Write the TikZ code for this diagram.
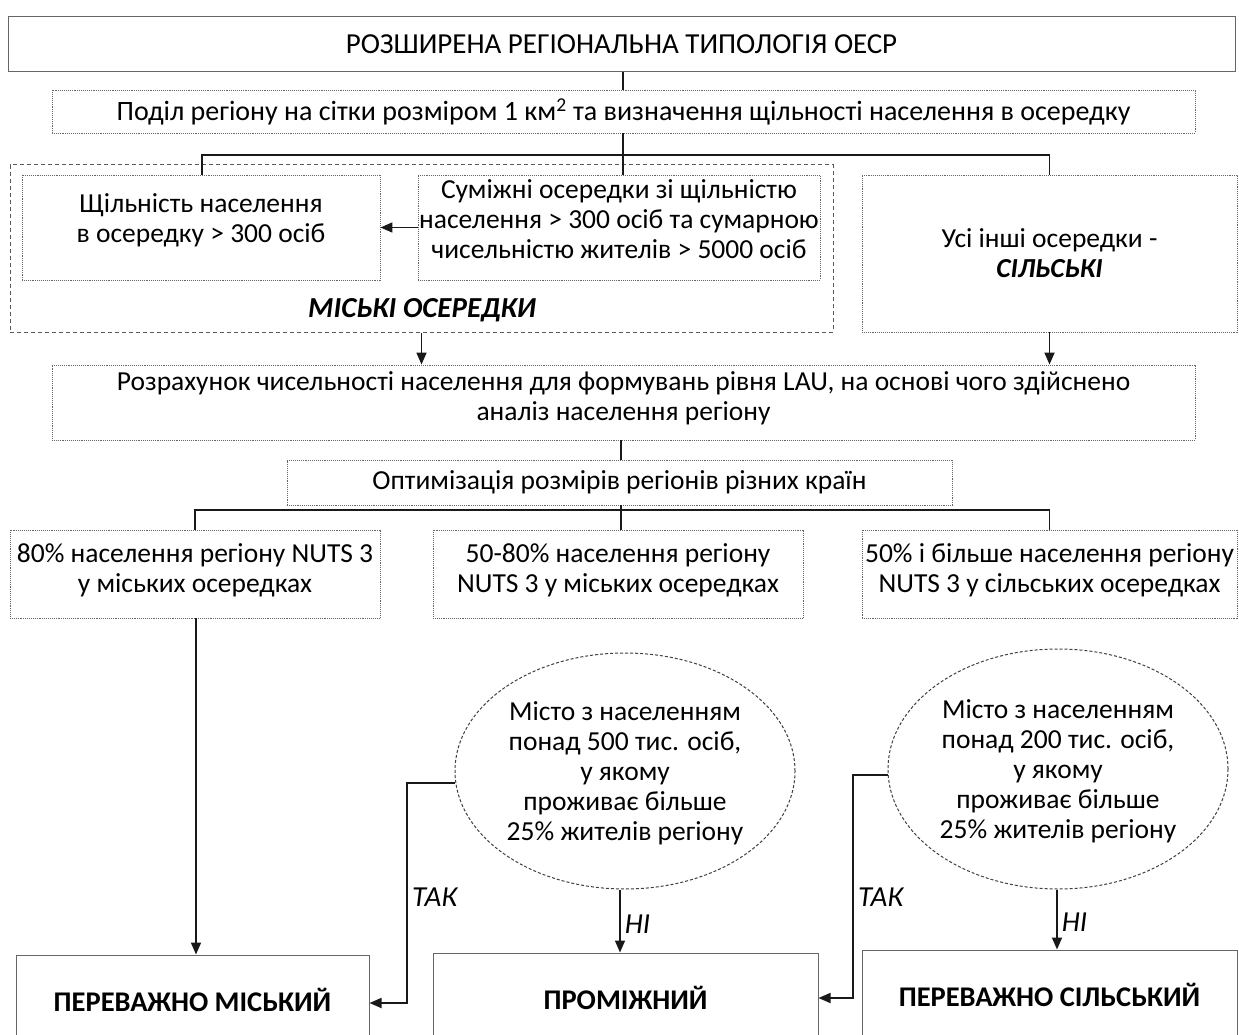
\documentclass[tikz,border=0pt]{standalone}
\usepackage{fontspec}
\setmainfont{Carlito}
\usetikzlibrary{shapes.geometric,arrows.meta,calc}
\begin{document}
\begin{tikzpicture}[x=1pt,y=-1pt,
  every node/.style={font=\fontsize{27.5}{30}\selectfont, text=black, inner sep=0pt, align=center},
  solidbox/.style={draw=black!60, line width=1pt, rectangle},
  dotbox/.style={draw=black!60, line width=0.9pt, densely dotted, rectangle},
  groupbox/.style={draw=black!65, line width=1pt, dash pattern=on 4pt off 3pt, rectangle},
  ellbox/.style={draw=black!75, line width=1pt, dash pattern=on 3pt off 2pt, ellipse},
  conn/.style={draw=black!90, line width=1.7pt},
  arr/.style={conn, -{Triangle[length=12pt,width=10pt]}},
  lbl/.style={font=\fontsize{29}{30}\selectfont\itshape},
  bigtxt/.style={font=\fontsize{28.5}{30}\selectfont\bfseries}
]
\useasboundingbox (0,0) rectangle (1239,1035);
\fill[white] (0,0) rectangle (1239,1035);
\begin{scope}
\clip (0,0) rectangle (1239,1035);
% boxes
\node[solidbox, minimum width=1227, minimum height=55, font=\fontsize{29}{30}\selectfont] (title) at (621.5,44.5) {РОЗШИРЕНА РЕГІОНАЛЬНА ТИПОЛОГІЯ ОЕСР};
\node[dotbox, minimum width=1143, minimum height=43, font=\fontsize{28}{30}\selectfont] (grid) at (623.5,111.5) {Поділ регіону на сітки розміром 1 км\textsuperscript{2} та визначення щільності населення в осередку};
\node[groupbox, minimum width=823, minimum height=167] (group) at (421.5,248.5) {};
\node[dotbox, minimum width=358, minimum height=105] (cL) at (201,227.5) {};
\node (cLt) at (201,220.5) {Щільність населення\\в осередку > 300 осіб};
\node[dotbox, minimum width=402, minimum height=105] (cR) at (619,227.5) {};
\node (cRt) at (619,219.5) {Суміжні осередки зі щільністю\\населення > 300 осіб та сумарною\\чисельністю жителів > 5000 осіб};
\node[font=\fontsize{29}{30}\selectfont\bfseries\itshape] (urb) at (422,310) {МІСЬКІ ОСЕРЕДКИ};
\node[dotbox, minimum width=375, minimum height=157] (rural) at (1049.5,253.5) {Усі інші осередки -\\\textbf{\textit{СІЛЬСЬКІ}}};
\node[dotbox, minimum width=1143, minimum height=75] (lau) at (623.5,402.5) {};
\node (laut) at (623.5,398.5) {Розрахунок чисельності населення для формувань рівня LAU, на основі чого здійснено\\аналіз населення регіону};
\node[dotbox, minimum width=665, minimum height=45] (opt) at (619.5,482.5) {Оптимізація розмірів регіонів різних країн};
\node[dotbox, minimum width=370, minimum height=88] (p1) at (195,574) {};
\node (p1t) at (195,570) {80\% населення регіону NUTS 3\\у міських осередках};
\node[dotbox, minimum width=370, minimum height=88] (p2) at (618,574) {};
\node (p2t) at (618,570) {50-80\% населення регіону\\NUTS 3 у міських осередках};
\node[dotbox, minimum width=375, minimum height=88] (p3) at (1049.5,574) {};
\node (p3t) at (1049.5,570) {50\% і більше населення регіону\\NUTS 3 у сільських осередках};
\node[ellbox, minimum width=340, minimum height=236] (e1) at (625,771) {};
\node (e1t) at (625,773) {Місто з населенням\\понад 500 тис. осіб,\\у якому\\проживає більше\\25\% жителів регіону};
\node[ellbox, minimum width=340, minimum height=240] (e2) at (1058,769) {};
\node (e2t) at (1058,771) {Місто з населенням\\понад 200 тис. осіб,\\у якому\\проживає більше\\25\% жителів регіону};
\node[solidbox, minimum width=353, minimum height=90] (r1) at (192.5,1000) {};
\node[bigtxt] (r1t) at (192.5,1000) {ПЕРЕВАЖНО МІСЬКИЙ};
\node[solidbox, minimum width=385, minimum height=90] (r2) at (625.5,998) {};
\node[bigtxt] (r2t) at (625.5,998) {ПРОМІЖНИЙ};
\node[solidbox, minimum width=375, minimum height=94] (r3) at (1049.5,997) {};
\node[bigtxt] (r3t) at (1049.5,995) {ПЕРЕВАЖНО СІЛЬСЬКИЙ};
% connectors
\coordinate (j1) at (623,155);
\coordinate (j2) at (621,510);
\draw[conn] (title.south -| j1) -- (grid.north -| j1);
\draw[conn] (grid.south -| j1) -- (j1);
\draw[conn] (cL.north -| 202,0) |- (j1) -| (rural.north);
\draw[conn] (j1) -- (cR.north -| j1);
\draw[arr] (cR.west) -- (cL.east);
\draw[arr] (group.south) -- (group.south |- lau.north);
\draw[arr] (rural.south) -- (rural.south |- lau.north);
\draw[conn] (lau.south -| j2) -- (opt.north -| j2);
\draw[conn] (opt.south -| j2) -- (j2);
\draw[conn] (p1.north) |- (j2) -| (p3.north);
\draw[conn] (j2) -- (p2.north -| j2);
\draw[arr] (p1.south -| 196,0) -- (r1.north -| 196,0);
\coordinate (t1) at (407,1003);
\draw[arr] (e1.184) -| (t1) -- (t1 -| r1.east);
\draw[arr] (e1.south -| 620,0) -- (r2.north -| 620,0) node[lbl, pos=0.55, right=4pt] (ni1) {НІ};
\node[lbl, anchor=west] (tak1) at (412,897) {ТАК};
\coordinate (t2) at (853,998);
\draw[arr] (e2.182) -| (t2) -- (t2 -| r2.east);
\draw[arr] (e2.south -| 1057,0) -- (r3.north -| 1057,0) node[lbl, pos=0.55, right=4pt] (ni2) {НІ};
\node[lbl, anchor=west] (tak2) at (858,897) {ТАК};
\end{scope}
\end{tikzpicture}
\end{document}
